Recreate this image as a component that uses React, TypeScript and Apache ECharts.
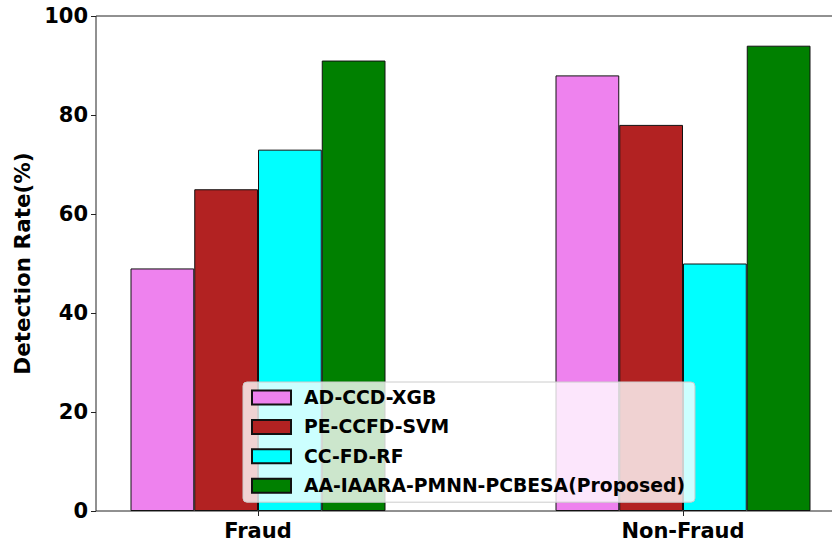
import React, { useEffect, useRef } from "react";
import * as echarts from "echarts";

const categories = ["Fraud", "Non-Fraud"];
const seriesNames = ["AD-CCD-XGB", "PE-CCFD-SVM", "CC-FD-RF", "AA-IAARA-PMNN-PCBESA(Proposed)"];
const adCcdXgb = [49, 88];
const peCcfdSvm = [65, 78];
const ccFdRf = [73, 50];
const aaProposed = [91, 94];
const yTicks = [0, 20, 40, 60, 80, 100];
const colors = ["#EE82EE", "#B22222", "#00FFFF", "#008000"];

export default function App() {
  const ref = useRef<HTMLDivElement>(null);
  useEffect(() => {
    document.body.style.margin = "0";
    const chart = echarts.init(ref.current!, null, { renderer: "svg" });
    const font = "'DejaVu Sans', sans-serif";
    const values = [adCcdXgb, peCcfdSvm, ccFdRf, aaProposed];
    chart.setOption({
      animation: false,
      backgroundColor: "#ffffff",
      grid: [
        { left: 96, top: 16, width: 748, height: 495, show: true, borderColor: "#222", borderWidth: 1, backgroundColor: "transparent" },
        { left: 45.5, top: 16, width: 850, height: 495 },
      ],
      xAxis: [
        { type: "value", gridIndex: 0, min: 0, max: 1, show: false },
        {
          type: "category",
          gridIndex: 1,
          data: categories,
          axisLine: { show: false },
          axisTick: { show: true, alignWithLabel: true, length: 5, lineStyle: { color: "#222" } },
          axisLabel: { margin: 9, fontFamily: font, fontWeight: "bold", fontSize: 21, color: "#000" },
          splitLine: { show: false },
        },
      ],
      yAxis: [
        {
          type: "value",
          gridIndex: 0,
          min: yTicks[0],
          max: yTicks[yTicks.length - 1],
          interval: 20,
          name: "Detection Rate(%)",
          nameLocation: "middle",
          nameGap: 60,
          nameTextStyle: { fontFamily: font, fontWeight: "bold", fontSize: 21.5, color: "#000" },
          axisLine: { show: false },
          axisTick: { show: true, length: 5, lineStyle: { color: "#222" } },
          axisLabel: { margin: 8, fontFamily: font, fontWeight: "bold", fontSize: 21, color: "#000" },
          splitLine: { show: false },
        },
        { type: "value", gridIndex: 1, min: 0, max: 100, show: false },
      ],
      legend: {
        orient: "vertical",
        left: 243,
        top: 382,
        data: seriesNames,
        icon: "rect",
        backgroundColor: "rgba(255,255,255,0.8)",
        borderColor: "#cccccc",
        borderWidth: 1,
        borderRadius: 4,
        padding: [6, 10, 7, 8],
        itemWidth: 39,
        itemHeight: 14,
        itemGap: 10.4,
        textStyle: { fontFamily: font, fontWeight: "bold", fontSize: 18.8, color: "#000", lineHeight: 14, padding: [0, 0, 0, 8] },
      },
      series: seriesNames.map((name, i) => ({
        name,
        type: "bar",
        xAxisIndex: 1,
        yAxisIndex: 1,
        data: values[i],
        barWidth: 63.75,
        barGap: "0%",
        itemStyle: { color: colors[i], borderColor: "#111", borderWidth: 1 },
      })),
    });
    return () => chart.dispose();
  }, []);
  return (
    <div style={{ position: "absolute", left: 0, top: 0, width: 832, height: 542, overflow: "hidden" }}>
      <div ref={ref} style={{ width: 900, height: 542 }} />
    </div>
  );
}
